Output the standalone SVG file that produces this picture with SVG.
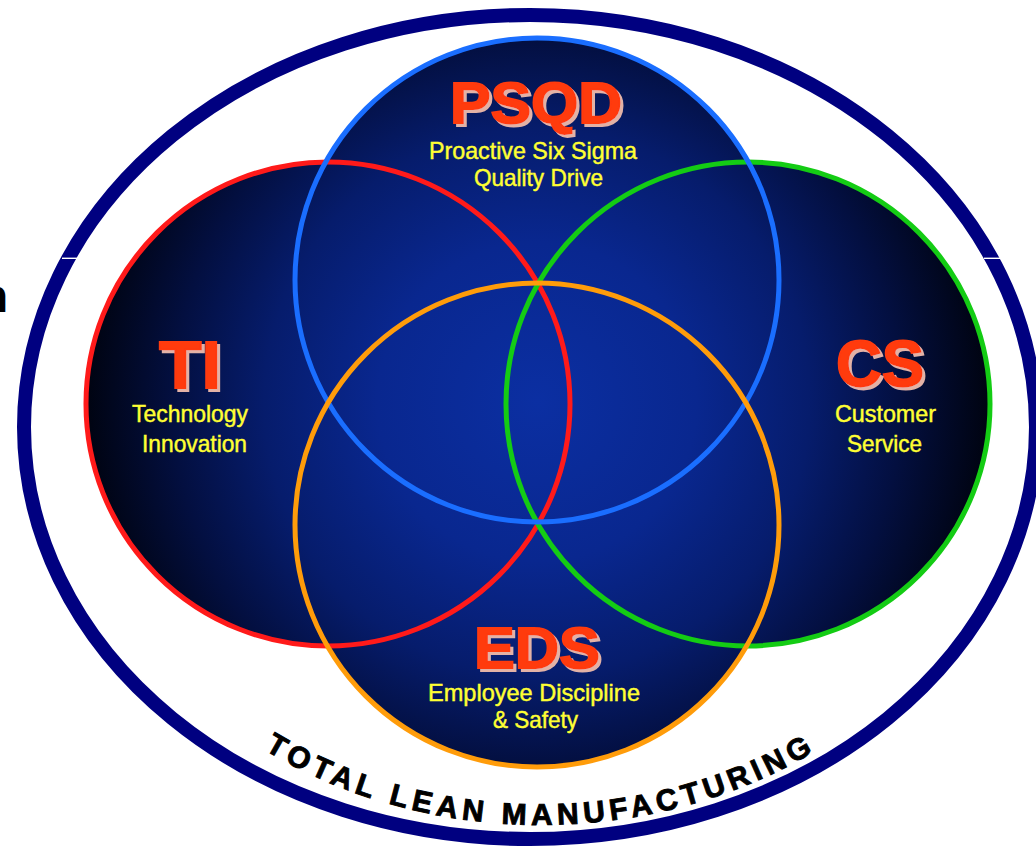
<svg xmlns="http://www.w3.org/2000/svg" width="1036" height="849" viewBox="0 0 1036 849">
<defs>
<radialGradient id="bg" gradientUnits="userSpaceOnUse" cx="537" cy="402" r="455">
<stop offset="0" stop-color="#0b2fa2"/>
<stop offset="0.35" stop-color="#09278f"/>
<stop offset="0.6" stop-color="#061c6c"/>
<stop offset="0.8" stop-color="#030f40"/>
<stop offset="1" stop-color="#00030f"/>
</radialGradient>
<filter id="sh" x="-10%" y="-10%" width="130%" height="140%">
<feOffset in="SourceAlpha" dx="3" dy="3" result="o"/>
<feFlood flood-color="#e3b2a6"/>
<feComposite in2="o" operator="in" result="s"/>
<feMerge><feMergeNode in="s"/><feMergeNode in="SourceGraphic"/></feMerge>
</filter>
<path id="arc" d="M 68 427 A 473 398 0 0 0 1014 427"/>
<style>
.ring{fill:none;stroke-width:5}
.big{font-family:"Liberation Sans",Arial,sans-serif;font-weight:bold;text-anchor:middle;fill:#ff3a0c;stroke:#ff3a0c;stroke-width:1.8;filter:url(#sh)}
.sub{font-family:"Liberation Sans",Arial,sans-serif;font-size:24px;fill:#ffff33;stroke:#ffff33;stroke-width:0.45;text-anchor:middle}
.band{font-family:"Liberation Sans",Arial,sans-serif;font-weight:bold;font-size:30px;fill:#000;stroke:#000;stroke-width:0.9;letter-spacing:5px}
</style>
</defs>
<rect width="1036" height="849" fill="#fff"/>
<g id="frame">
<ellipse cx="530" cy="427" rx="506" ry="412" fill="none" stroke="#000080" stroke-width="14"/>
<rect x="62" y="257.6" width="16" height="1.4" fill="#fff"/>
<rect x="984" y="257.6" width="17" height="1.4" fill="#fff"/>
<text x="8" y="312" font-family="Liberation Sans,Arial,sans-serif" font-weight="bold" font-size="46" text-anchor="end" fill="#000">n</text>
</g>
<g id="fills">
<circle cx="328" cy="404" r="242" fill="url(#bg)"/>
<circle cx="748" cy="404" r="242" fill="url(#bg)"/>
<circle cx="537" cy="280" r="242" fill="url(#bg)"/>
<circle cx="537" cy="525" r="242" fill="url(#bg)"/>
</g>
<g id="connectors"></g>
<g id="TI">
<circle class="ring" cx="328" cy="404" r="242" stroke="#ff1a1a"/>
<text class="big" x="190" y="388" font-size="66" textLength="62" lengthAdjust="spacingAndGlyphs">TI</text>
<text class="sub" x="190" y="422" textLength="116" lengthAdjust="spacingAndGlyphs">Technology</text>
<text class="sub" x="194.5" y="452" textLength="105" lengthAdjust="spacingAndGlyphs">Innovation</text>
</g>
<g id="CS">
<circle class="ring" cx="748" cy="404" r="242" stroke="#14cc14"/>
<text class="big" x="880" y="386" font-size="64" textLength="88" lengthAdjust="spacingAndGlyphs">CS</text>
<text class="sub" x="885.5" y="422" textLength="101" lengthAdjust="spacingAndGlyphs">Customer</text>
<text class="sub" x="884.5" y="452" textLength="75" lengthAdjust="spacingAndGlyphs">Service</text>
</g>
<g id="PSQD">
<circle class="ring" cx="537" cy="280" r="242" stroke="#1a6eff"/>
<text class="big" x="536" y="123" font-size="57" textLength="172" lengthAdjust="spacingAndGlyphs">PSQD</text>
<text class="sub" x="533" y="159" textLength="208" lengthAdjust="spacingAndGlyphs">Proactive Six Sigma</text>
<text class="sub" x="538.5" y="186" textLength="129" lengthAdjust="spacingAndGlyphs">Quality Drive</text>
</g>
<g id="EDS">
<circle class="ring" cx="537" cy="525" r="242" stroke="#ff9c0a"/>
<text class="big" x="537" y="668" font-size="58" textLength="126" lengthAdjust="spacingAndGlyphs">EDS</text>
<text class="sub" x="534" y="701" textLength="212" lengthAdjust="spacingAndGlyphs">Employee Discipline</text>
<text class="sub" x="535.5" y="728" textLength="85" lengthAdjust="spacingAndGlyphs">&amp; Safety</text>
</g>
<g id="band">
<text class="band"><textPath href="#arc" startOffset="50%" text-anchor="middle">TOTAL LEAN MANUFACTURING</textPath></text>
</g>
</svg>
